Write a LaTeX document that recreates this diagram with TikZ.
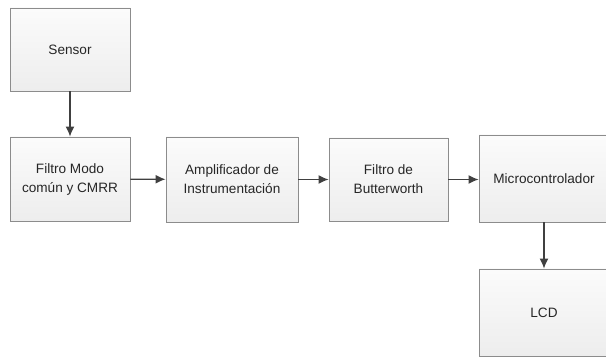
\documentclass[tikz,border=0pt]{standalone}
\usepackage{fontspec}
\setmainfont{Liberation Sans}
\usetikzlibrary{arrows.meta,shadows}
\definecolor{boxline}{HTML}{8C8C8C}
\definecolor{arrowcol}{HTML}{404040}
\definecolor{textcol}{HTML}{262626}
\tikzset{
	block/.style={draw=boxline, line width=0.9pt, top color=gray!3, bottom color=gray!14,
		drop shadow={shadow xshift=1.2pt, shadow yshift=-1.2pt, opacity=0.25},
		align=center, inner sep=0pt, text=textcol, font=\fontsize{13.6}{19}\selectfont},
	flow/.style={draw=arrowcol, line width=1.3pt, -{Latex[length=10pt,width=9pt]}}
}
\begin{document}
\begin{tikzpicture}[x=1pt,y=1pt]
		\useasboundingbox (0,0) rectangle (606,358);
		\node[block, minimum width=120pt, minimum height=83pt] (sensor) at (70,308.5) {Sensor};
		\node[block, minimum width=120pt, minimum height=84pt] (filtro) at (70,179) {Filtro Modo\\común y CMRR};
		\node[block, minimum width=132pt, minimum height=85pt] (amp) at (232,178.5) {Amplificador de\\Instrumentación};
		\node[block, minimum width=119pt, minimum height=83pt] (butter) at (388.5,178.5) {Filtro de\\Butterworth};
		\node[block, minimum width=130pt, minimum height=87pt] (micro) at (544,179.5) {Microcontrolador};
		\node[block, minimum width=130pt, minimum height=87pt] (lcd) at (544,45.5) {LCD};
		\draw[flow] (sensor) -- (filtro);
		\draw[flow] (filtro) -- (amp);
		\draw[flow] (amp) -- (butter);
		\draw[flow] (butter.east) -- (micro.west |- butter.east);
		\draw[flow] (micro) -- (lcd);
	\end{tikzpicture}
\end{document}
